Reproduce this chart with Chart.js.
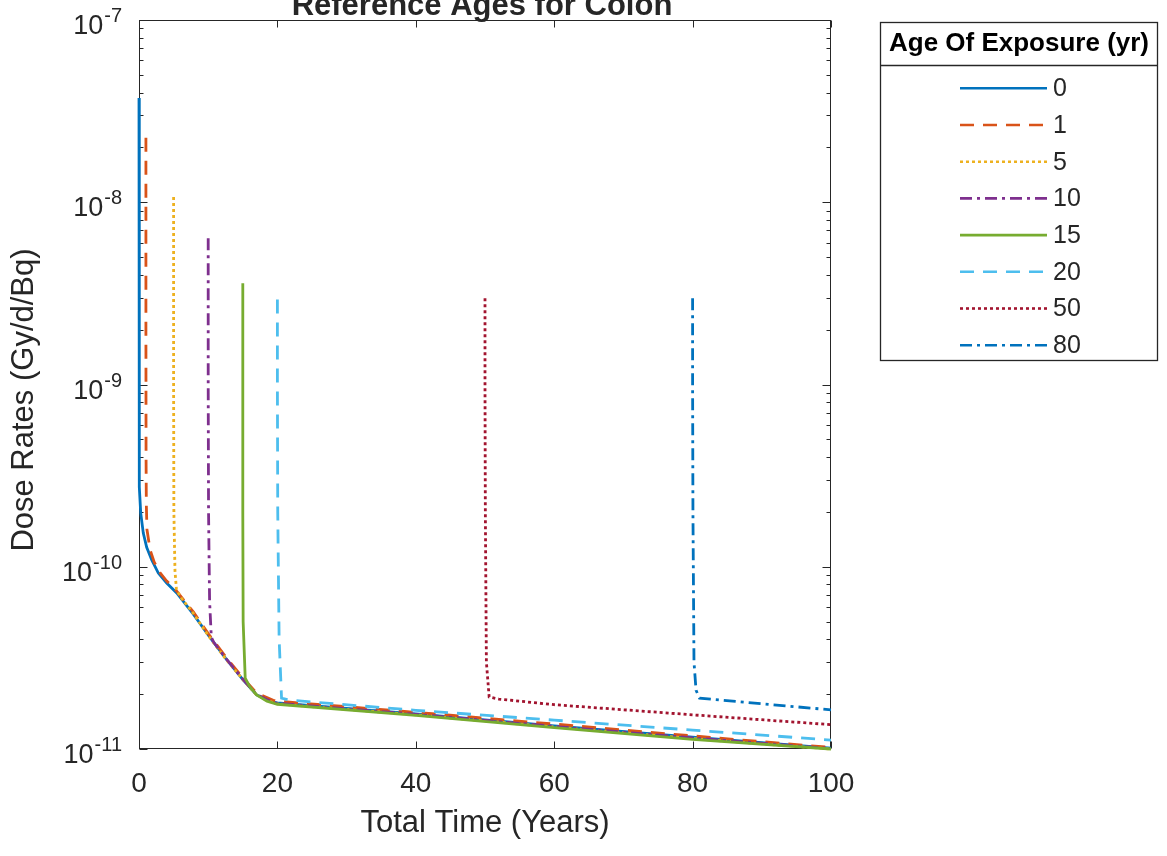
<!DOCTYPE html>
<html>
<head>
<meta charset="utf-8">
<script src="https://cdn.jsdelivr.net/npm/chart.js@4.4.1/dist/chart.umd.min.js"></script>
<style>
html,body{margin:0;padding:0;background:#fff;overflow:hidden}
canvas{display:block}
</style>
</head>
<body>
<canvas id="c" width="1167" height="856"></canvas>
<script>
// ---------- text ----------
const chartTitle = 'Reference Ages for Colon';
const xAxisTitle = 'Total Time (Years)';
const yAxisTitle = 'Dose Rates (Gy/d/Bq)';
const legendTitle = 'Age Of Exposure (yr)';

// ---------- ticks ----------
const xTicks = [0, 20, 40, 60, 80, 100];
const yTickBase = '10';
const yTickExponents = [-11, -10, -9, -8, -7];

// ---------- series (age of exposure) ----------
const ages = ['0', '1', '5', '10', '15', '20', '50', '80'];

const age0X = [0, 0.02, 0.04, 0.07, 0.25, 0.62, 1.11, 1.84, 2.79, 4.0, 5.45, 7.85, 10.1, 12.5, 15.07, 17.0, 19.4, 20, 40, 60, 80, 100];
const age0Y = [3.73e-8, 3.0e-9, 6.0e-10, 2.74e-10, 1.97e-10, 1.53e-10, 1.28e-10, 1.09e-10, 9.24e-11, 8.14e-11, 7.18e-11, 5.5e-11, 4.17e-11, 3.15e-11, 2.39e-11, 1.98e-11, 1.81e-11, 1.79e-11, 1.56e-11, 1.34e-11, 1.16e-11, 1.01e-11];

const age1X = [1, 1, 1.02, 1.06, 1.15, 1.6, 2.2, 3.0, 4.0, 5.45, 7.85, 10.1, 12.5, 15.07, 17.0, 19.4, 20, 40, 60, 80, 100];
const age1Y = [2.26e-8, 2.0e-9, 4.0e-10, 2.2e-10, 1.6e-10, 1.24e-10, 1.06e-10, 9.3e-11, 8.35e-11, 7.35e-11, 5.65e-11, 4.25e-11, 3.22e-11, 2.44e-11, 2.03e-11, 1.85e-11, 1.83e-11, 1.59e-11, 1.37e-11, 1.18e-11, 1.02e-11];

const age5X = [5, 5, 5.04, 5.2, 5.4, 5.9, 7.85, 10.1, 12.5, 15.07, 17.0, 19.4, 20, 40, 60, 80, 100];
const age5Y = [1.07e-8, 1.0e-9, 2.0e-10, 9.5e-11, 7.6e-11, 6.9e-11, 5.55e-11, 4.15e-11, 3.13e-11, 2.39e-11, 1.98e-11, 1.79e-11, 1.77e-11, 1.54e-11, 1.32e-11, 1.14e-11, 1.0e-11];

const age10X = [10, 10, 10.05, 10.2, 10.45, 10.8, 12.5, 15.07, 17.0, 19.4, 20, 40, 60, 80, 100];
const age10Y = [6.34e-9, 1.0e-9, 2.0e-10, 6.5e-11, 4.1e-11, 3.85e-11, 3.16e-11, 2.4e-11, 1.99e-11, 1.8e-11, 1.78e-11, 1.55e-11, 1.33e-11, 1.15e-11, 1.005e-11];

const age15X = [15, 15, 15, 15.05, 15.35, 16, 17, 18.5, 20, 40, 60, 80, 100];
const age15Y = [3.59e-9, 1.0e-9, 2.0e-10, 5.0e-11, 2.45e-11, 2.2e-11, 1.98e-11, 1.83e-11, 1.76e-11, 1.53e-11, 1.31e-11, 1.13e-11, 1.0e-11];

const age20X = [20, 20, 20.05, 20.25, 20.6, 22, 40, 60, 80, 100];
const age20Y = [2.93e-9, 1.0e-9, 2.0e-10, 4.0e-11, 1.9e-11, 1.85e-11, 1.63e-11, 1.44e-11, 1.27e-11, 1.12e-11];

const age50X = [50, 50, 50.05, 50.2, 50.6, 52, 60, 80, 100];
const age50Y = [2.97e-9, 1.0e-9, 2.0e-10, 3.0e-11, 1.93e-11, 1.88e-11, 1.75e-11, 1.54e-11, 1.36e-11];

const age80X = [80, 80, 80.05, 80.2, 80.5, 81, 90, 100];
const age80Y = [2.97e-9, 1.0e-9, 2.0e-10, 3.0e-11, 2.1e-11, 1.9e-11, 1.77e-11, 1.64e-11];

// ---------- styles ----------
const FONT = "'Liberation Sans', Arial, Helvetica, sans-serif";
const TEXT = '#262626';
const seriesColors = ['#0072BD', '#D95319', '#EDB120', '#7E2F8E', '#77AC30', '#4DBEEE', '#A2142F', '#0072BD'];
const seriesDashes = [[], [14, 9], [3, 3], [12, 5, 3, 5], [], [14, 9], [3, 3], [12, 5, 3, 5]];

const seriesX = [age0X, age1X, age5X, age10X, age15X, age20X, age50X, age80X];
const seriesY = [age0Y, age1Y, age5Y, age10Y, age15Y, age20Y, age50Y, age80Y];

const datasets = ages.map((a, i) => ({
  label: a,
  data: seriesX[i].map((x, j) => ({ x: x, y: seriesY[i][j] })),
  borderColor: seriesColors[i],
  backgroundColor: seriesColors[i],
  borderDash: seriesDashes[i],
  borderWidth: 2.8,
  pointRadius: 0,
  tension: 0,
  fill: false,
  clip: 3,
  order: ages.length - i
}));

function line(ctx, x1, y1, x2, y2) {
  ctx.beginPath(); ctx.moveTo(x1, y1); ctx.lineTo(x2, y2); ctx.stroke();
}

const decor = {
  id: 'decor',
  beforeDatasetsDraw(chart) {
    const { ctx, chartArea: ca, scales } = chart;
    const xs = scales.x, ys = scales.y;
    const L = Math.round(ca.left) + 0.5, R = Math.round(ca.right) - 0.5;
    const T = Math.round(ca.top) + 0.5, B = Math.round(ca.bottom) - 0.5;
    ctx.save();
    ctx.strokeStyle = TEXT;
    ctx.lineWidth = 1;
    ctx.strokeRect(L, T, R - L, B - T);
    xTicks.forEach(v => {
      const px = Math.round(xs.getPixelForValue(v)) + 0.5;
      line(ctx, px, B, px, B - 7);
      line(ctx, px, T, px, T + 7);
    });
    yTickExponents.forEach(e => {
      for (let m = 1; m <= 9; m++) {
        if (e === yTickExponents[yTickExponents.length - 1] && m > 1) break;
        const py = Math.round(ys.getPixelForValue(m * Math.pow(10, e))) + 0.5;
        const len = m === 1 ? 8 : 4;
        line(ctx, L, py, L + len, py);
        line(ctx, R, py, R - len, py);
      }
    });
    ctx.restore();
  },
  afterDraw(chart) {
    const { ctx, scales } = chart;
    const ys = scales.y;
    ctx.save();
    ctx.fillStyle = TEXT;
    // y tick labels with superscript exponents
    ctx.textBaseline = 'alphabetic';
    yTickExponents.forEach(e => {
      const py = ys.getPixelForValue(Math.pow(10, e));
      const sup = String(e);
      ctx.font = '20px ' + FONT;
      const ws = ctx.measureText(sup).width;
      const supX = 122 - ws;
      ctx.textAlign = 'left';
      ctx.fillText(sup, supX, py + 2);
      ctx.font = '27px ' + FONT;
      ctx.textAlign = 'right';
      ctx.fillText(yTickBase, supX - 1, py + 14);
    });
    // y axis title (rotated)
    ctx.save();
    ctx.translate(24, 400);
    ctx.rotate(-Math.PI / 2);
    ctx.font = '31px ' + FONT;
    ctx.textAlign = 'center';
    ctx.textBaseline = 'middle';
    ctx.fillText(yAxisTitle, 0, 0);
    ctx.restore();
    // chart title (clipped at top as in the reference)
    ctx.font = 'bold 31px ' + FONT;
    ctx.textAlign = 'center';
    ctx.textBaseline = 'alphabetic';
    ctx.fillText(chartTitle, 482, 15);

    // legend box
    const bx = 880.5, by = 22.5, bw = 277, bh = 338;
    ctx.fillStyle = '#ffffff';
    ctx.fillRect(bx, by, bw, bh);
    ctx.strokeStyle = TEXT;
    ctx.lineWidth = 1.3;
    ctx.strokeRect(bx, by, bw, bh);
    line(ctx, bx, 65.5, bx + bw, 65.5);
    ctx.fillStyle = '#000000';
    ctx.font = 'bold 26px ' + FONT;
    ctx.textAlign = 'center';
    ctx.textBaseline = 'middle';
    ctx.fillText(legendTitle, bx + bw / 2, 44);
    ctx.font = '25px ' + FONT;
    ctx.textAlign = 'left';
    chart.data.datasets.forEach((ds, i) => {
      const yy = 88.3 + i * 36.7;
      ctx.save();
      ctx.strokeStyle = ds.borderColor;
      ctx.lineWidth = 2.6;
      ctx.setLineDash(ds.borderDash || []);
      line(ctx, 960, yy, 1047, yy);
      ctx.restore();
      ctx.fillStyle = TEXT;
      ctx.fillText(ds.label, 1053, yy + 1);
    });
    ctx.restore();
  }
};

new Chart(document.getElementById('c'), {
  type: 'line',
  data: { datasets: datasets },
  options: {
    responsive: false,
    animation: false,
    devicePixelRatio: 1,
    layout: { padding: { left: 0, top: 20, right: 336, bottom: 0 } },
    plugins: { legend: { display: false }, title: { display: false }, tooltip: { enabled: false } },
    scales: {
      x: {
        type: 'linear', position: 'bottom', min: 0, max: 100,
        afterFit(s) { s.height = 107; },
        grid: { display: false, drawTicks: false },
        border: { display: false },
        ticks: {
          stepSize: 20, autoSkip: false, maxRotation: 0, padding: 18, color: TEXT,
          font: { family: FONT, size: 28 },
          callback: v => (xTicks.includes(v) ? String(v) : '')
        },
        title: { display: true, text: xAxisTitle, color: TEXT, font: { family: FONT, size: 31 }, padding: { top: 0, bottom: 14 } }
      },
      y: {
        type: 'logarithmic', position: 'left', min: 1e-11, max: 1e-7,
        afterFit(s) { s.width = 139; },
        grid: { display: false, drawTicks: false },
        border: { display: false },
        ticks: { display: false },
        title: { display: false }
      }
    }
  },
  plugins: [decor]
});
</script>
</body>
</html>
